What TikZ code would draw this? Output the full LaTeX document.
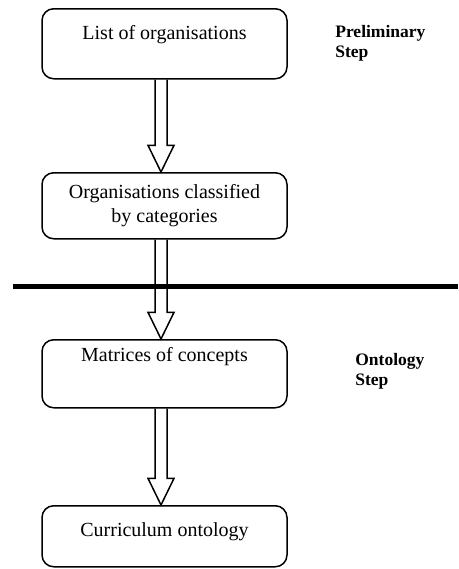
\documentclass[tikz,border=0pt]{standalone}
\usepackage{fontspec}
\setmainfont{Liberation Serif}
\usetikzlibrary{calc, positioning}

\begin{document}
\begin{tikzpicture}[x=0.6pt, y=-0.6pt]
	\tikzstyle{box_style}=[draw, rectangle, rounded corners=7pt, line width=0.9pt, minimum width=147pt, inner sep=0pt, anchor=north, font=\fontsize{12}{14.4}\selectfont]
	\tikzstyle{step_style}=[anchor=north west, inner sep=0pt, align=left, font=\fontsize{10.5}{12}\selectfont\bfseries]
	\tikzstyle{arrow_style}=[draw, line width=0.9pt, miter limit=10]
	\useasboundingbox (0,0) rectangle (458,569);
	% boxes
	\node at (164.5, 8) [box_style, text height=18.6pt, text depth=23.4pt] (organisations) {List of organisations};
	\node at (164.5, 172) [box_style, minimum height=39.6pt, align=center] (categories) {Organisations classified\\by categories};
	\node at (164.5, 339) [box_style, text height=13.2pt, text depth=27.6pt] (matrices) {Matrices of concepts};
	\node at (164.5, 505) [box_style, text height=18.6pt, text depth=18pt] (ontology) {Curriculum ontology};
	% step labels
	\node at (335, 25) [step_style] (preliminary_step) {Preliminary\\Step};
	\node at (355, 353) [step_style] (ontology_step) {Ontology\\Step};
	% block arrows
	\coordinate (axis) at (161, 0);
	\foreach \a/\b in {organisations/categories, categories/matrices, matrices/ontology}
		\draw[arrow_style] let \p1=(\a.south -| axis), \p2=(\b.north -| axis) in
			(\x1-3.6pt,\y1) -- (\x1-3.6pt,\y2+16pt) -- (\x1-7.8pt,\y2+16pt) -- (\x2,\y2)
			-- (\x1+7.8pt,\y2+16pt) -- (\x1+3.6pt,\y2+16pt) -- (\x1+3.6pt,\y1);
	% divider
	\coordinate (divider_left) at (13, 286);
	\coordinate (divider_right) at (458, 286);
	\draw[line width=3pt] (divider_left) -- (divider_right);
\end{tikzpicture}
\end{document}
